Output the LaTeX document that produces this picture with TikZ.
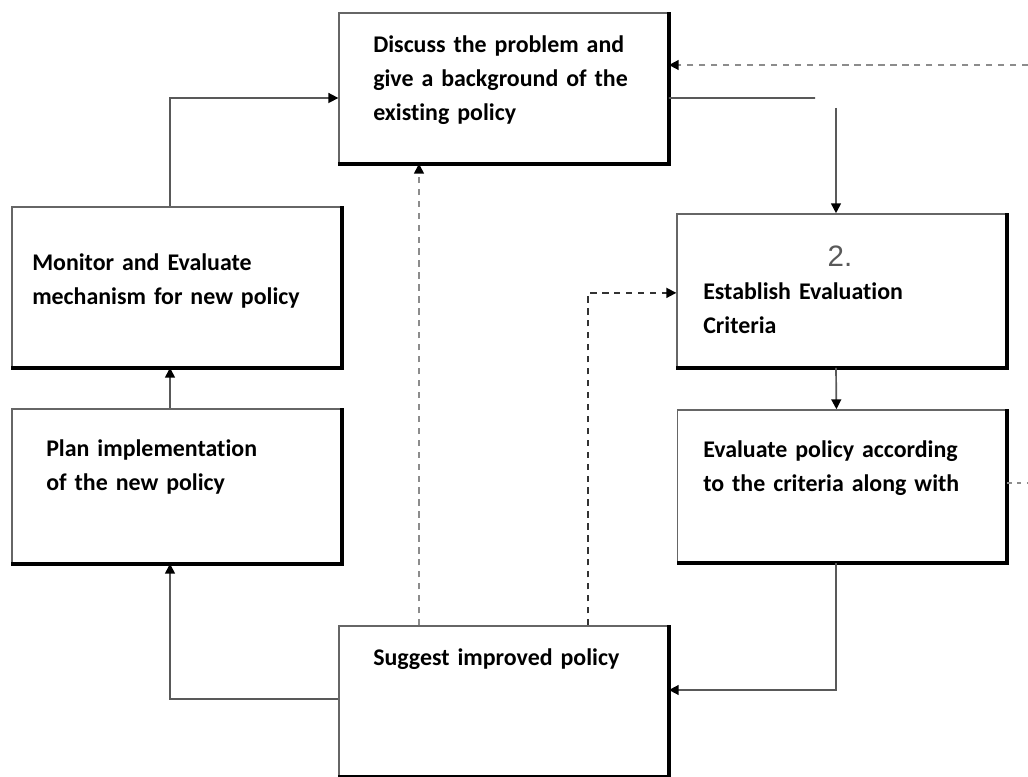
\documentclass[tikz,border=0pt]{standalone}
\usepackage{fontspec}
\setmainfont{Carlito}[Ligatures=NoCommon]
\newfontfamily\numfont{Liberation Sans}
\usetikzlibrary{arrows.meta}

\tikzset{
  box/.style={draw=black!60, line width=1.1pt, minimum width=8.225cm},
  heavy/.style={line width=2.6pt},
  txt/.style={font=\fontsize{17}{24.1}\selectfont\bfseries, align=left, anchor=base west, inner sep=0pt, text width=7.5cm},
  plainline/.style={draw=black!65, line width=1.2pt},
  conn/.style={plainline, -{Triangle[length=7pt,width=7pt,color=black]}},
  dashconn/.style={conn, draw=black!45, dash pattern=on 4.5pt off 4pt},
  dashline/.style={draw=black!45, line width=1.2pt, dash pattern=on 3pt off 4pt},
}

\begin{document}
\begin{tikzpicture}
        \useasboundingbox (0,0) rectangle (25.7,19.4);

        % Boxes
        \node[box, minimum height=3.75cm] (disc) at (12.59,17.2) {};
        \node[box, minimum height=4cm] (mon) at (4.41,12.225) {};
        \node[box, minimum height=3.85cm] (plan) at (4.41,7.25) {};
        \node[box, minimum height=3.825cm] (crit) at (21.04,12.1375) {};
        \node[box, minimum height=3.8cm] (eval) at (21.05,7.25) {};
        \node[box, minimum height=3.75cm] (sugg) at (12.59,1.875) {};

        % Heavy right and bottom edges
        \foreach \b in {disc,mon,plan,crit,eval,sugg}
            \draw[heavy] (\b.north east) -- (\b.south east) -- (\b.south west);

        % Box texts
        \node[txt] (disc-t) at (9.325,18.075) {Discuss the problem and\\give a background of the\\existing policy};
        \node[txt] (mon-t) at (0.8,12.625) {Monitor and Evaluate\\mechanism for new policy};
        \node[txt] (plan-t) at (1.15,7.975) {Plan implementation\\of the new policy};
        \node[font=\numfont\fontsize{21}{24}\selectfont, text=black!65, anchor=base] (num) at (21.0,12.725) {2.};
        \node[txt] (crit-t) at (17.575,11.9) {Establish Evaluation\\Criteria};
        \node[txt] (eval-t) at (17.575,7.95) {Evaluate policy according\\to the criteria along with};
        \node[txt] (sugg-t) at (9.325,2.775) {Suggest improved policy};

        % Left loop
        \draw[conn] ([xshift=-0.16cm]mon.north) |- ([yshift=-0.25cm]disc.west);
        \draw[conn] ([xshift=-0.16cm]plan.north) -- ([xshift=-0.16cm]mon.south);
        \draw[conn] ([yshift=0.05cm]sugg.west) -| ([xshift=-0.16cm]plan.south);

        % Right side
        \coordinate (gapA) at (20.375,16.95);
        \coordinate (gapB) at (20.9,16.7);
        \draw[plainline] ([yshift=-0.25cm]disc.east) -- (gapA);
        \draw[conn] (gapB) -- (gapB |- crit.north);
        \draw[conn] ([xshift=-0.14cm]crit.south) -- ([xshift=-0.14cm]eval.north);
        \draw[conn] ([xshift=-0.15cm]eval.south) |- ([yshift=0.275cm]sugg.east);

        % Dashed feedback
        \coordinate (inR) at (25.7,17.775);
        \coordinate (outR) at (25.7,7.325);
        \draw[dashconn] ([xshift=-2.115cm]sugg.north) -- ([xshift=-2.115cm]disc.south);
        \draw[dashconn, draw=black!80] ([xshift=2.11cm]sugg.north) |- ([yshift=-0.06cm]crit.west);
        \draw[dashconn] (inR) -- (inR -| disc.east);
        \draw[dashline] ([yshift=0.075cm]eval.east) -- (outR);
    \end{tikzpicture}
\end{document}
